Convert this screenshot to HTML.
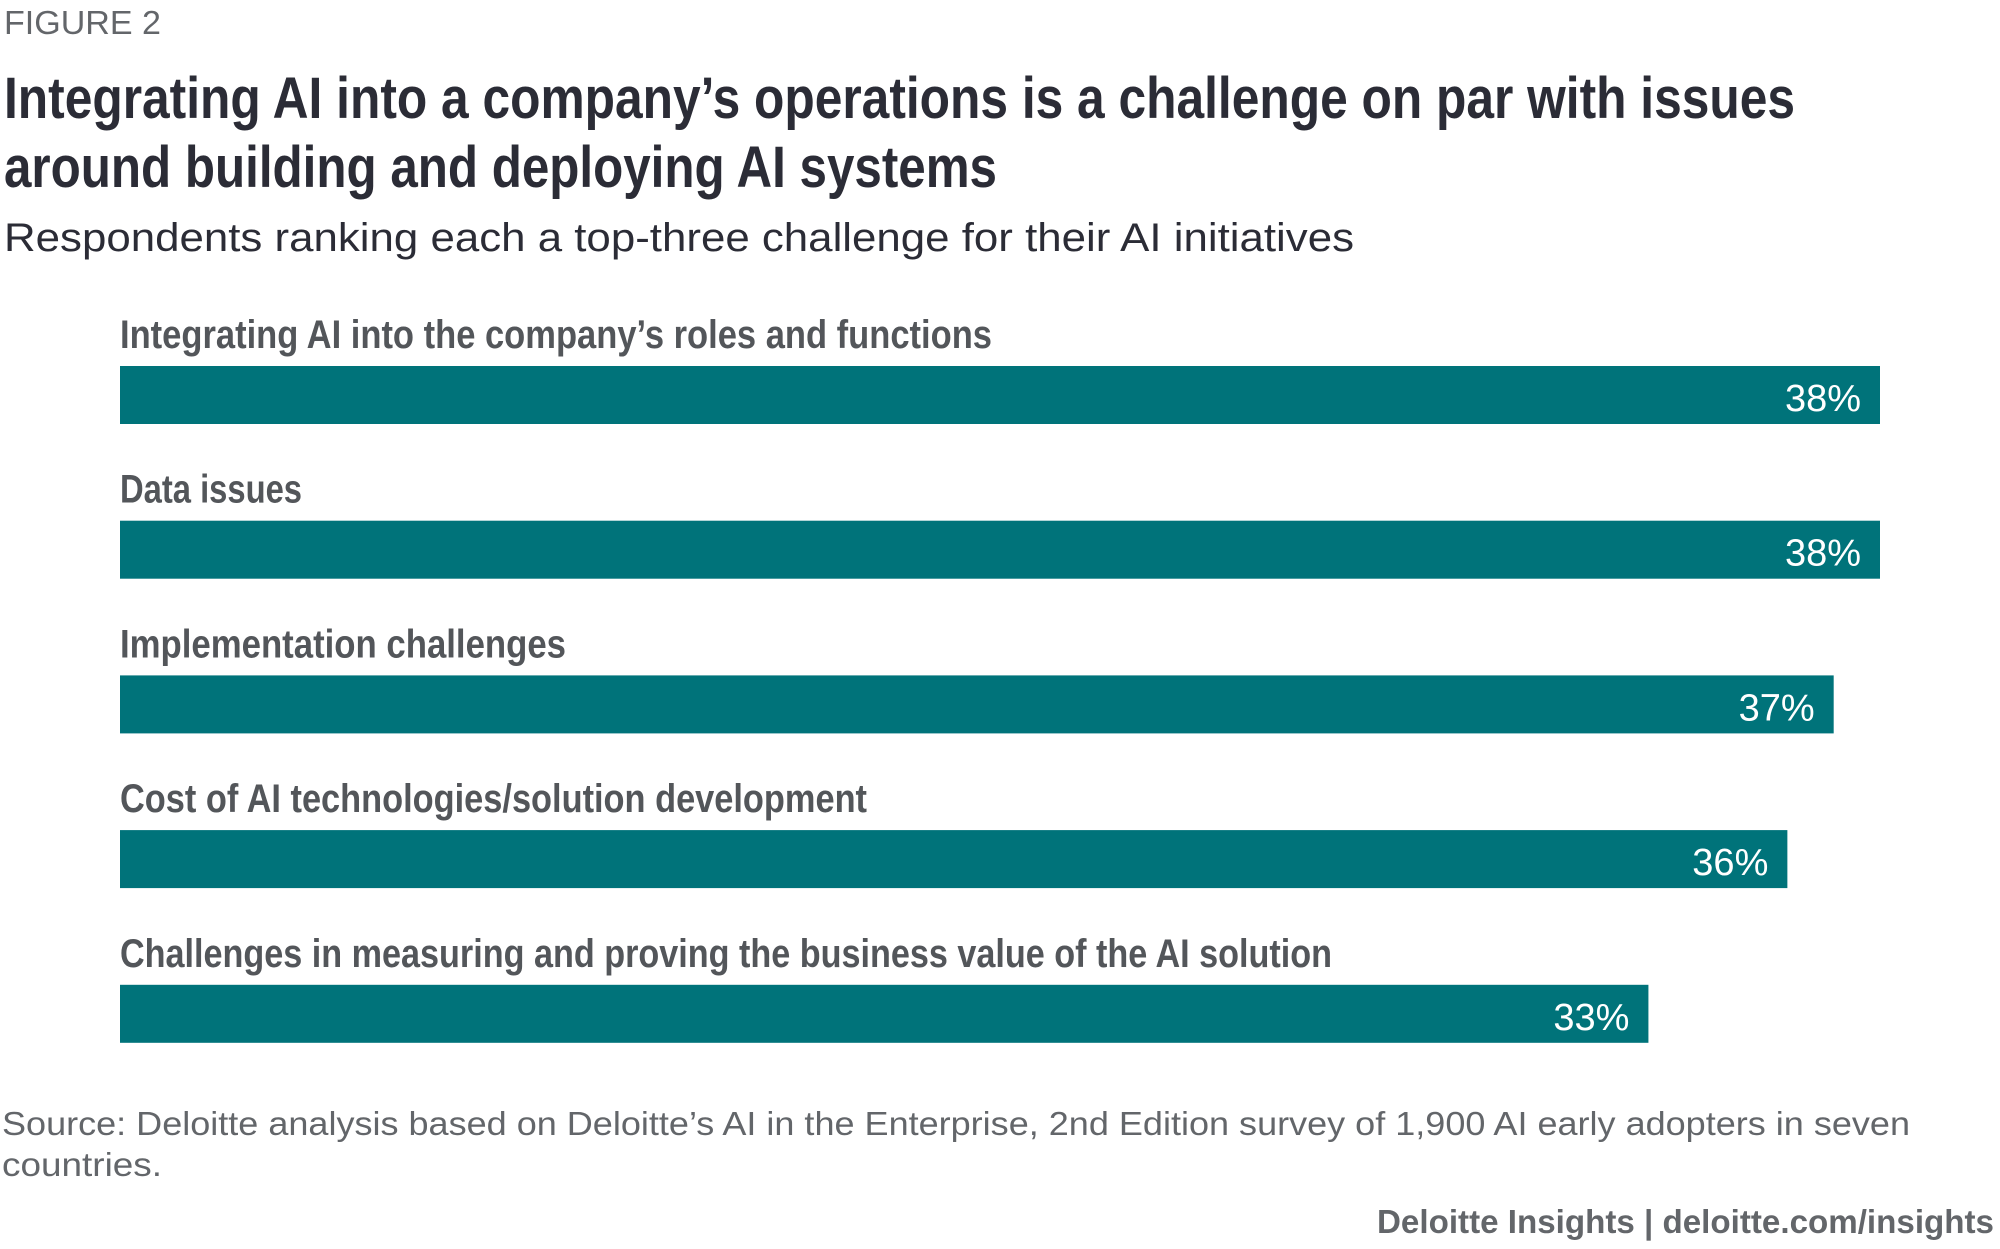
<!DOCTYPE html>
<html><head><meta charset="utf-8"><style>
html,body{margin:0;padding:0;background:#fff;}
svg{display:block;}
text{font-family:"Liberation Sans",sans-serif;}
.cond{font-family:"Liberation Sans Narrow","Liberation Sans",sans-serif;font-weight:bold;}
</style></head><body>
<svg width="2000" height="1249" viewBox="0 0 2000 1249">
<text x="4" y="34" font-size="33" fill="#63666a" textLength="157" lengthAdjust="spacingAndGlyphs">FIGURE 2</text>
<text class="cond" x="4" y="118" font-size="58" fill="#2b2c36" textLength="1791" lengthAdjust="spacingAndGlyphs">Integrating AI into a company’s operations is a challenge on par with issues</text>
<text class="cond" x="4" y="187" font-size="58" fill="#2b2c36" textLength="993" lengthAdjust="spacingAndGlyphs">around building and deploying AI systems</text>
<text x="4" y="251" font-size="40" fill="#2b2c36" textLength="1350" lengthAdjust="spacingAndGlyphs">Respondents ranking each a top-three challenge for their AI initiatives</text>
<g id="bars"></g>
<text x="2" y="1135" font-size="33" fill="#63666a" textLength="1908" lengthAdjust="spacingAndGlyphs">Source: Deloitte analysis based on Deloitte’s AI in the Enterprise, 2nd Edition survey of 1,900 AI early adopters in seven</text>
<text x="2" y="1176" font-size="33" fill="#63666a" textLength="160" lengthAdjust="spacingAndGlyphs">countries.</text>
<text x="1994" y="1233" font-size="33" font-weight="bold" fill="#63666a" text-anchor="end" textLength="617" lengthAdjust="spacingAndGlyphs">Deloitte Insights | deloitte.com/insights</text>
</svg>
<script>
const categories = ["Integrating AI into the company’s roles and functions","Data issues","Implementation challenges","Cost of AI technologies/solution development","Challenges in measuring and proving the business value of the AI solution"];
const values = [38, 38, 37, 36, 33];
const valueLabels = ["38%","38%","37%","36%","33%"];
const labelWidths = [872, 182, 446, 747, 1212];

const NS = "http://www.w3.org/2000/svg";
const g = document.getElementById("bars");
const x0 = 120, pxPerUnit = 1760/38;
function xScale(v){ return x0 + v*pxPerUnit; }
function yBar(i){ return 366 + i*154.7; }
categories.forEach((c,i)=>{
  const y = yBar(i);
  const t = document.createElementNS(NS,"text");
  t.setAttribute("class","cond");
  t.setAttribute("x", x0);
  t.setAttribute("y", y-18);
  t.setAttribute("font-size","40");
  t.setAttribute("fill","#53565a");
  t.setAttribute("textLength", labelWidths[i]);
  t.setAttribute("lengthAdjust","spacingAndGlyphs");
  t.textContent = c;
  
  
  g.appendChild(t);
  const r = document.createElementNS(NS,"rect");
  r.setAttribute("x", x0);
  r.setAttribute("y", y);
  r.setAttribute("width", xScale(values[i])-x0);
  r.setAttribute("height", 58);
  r.setAttribute("fill","#00737a");
  
  
  g.appendChild(r);
  const v = document.createElementNS(NS,"text");
  v.setAttribute("x", xScale(values[i])-19);
  v.setAttribute("y", y+45);
  v.setAttribute("font-size","38");
  v.setAttribute("fill","#ffffff");
  v.setAttribute("text-anchor","end");
  v.textContent = valueLabels[i];
  
  
  g.appendChild(v);
});
</script>
</body></html>
